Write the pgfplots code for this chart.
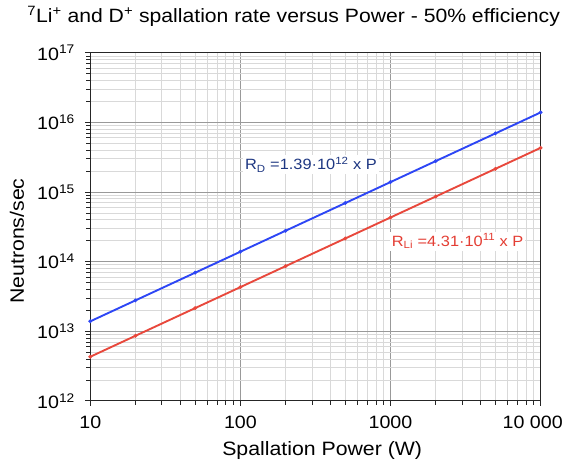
\documentclass[border=0pt]{standalone}
\usepackage{fontspec}
\setmainfont{Liberation Sans}[FakeStretch=1.1]
\usepackage{pgfplots}
\pgfplotsset{compat=1.18}
\usetikzlibrary{calc}
\definecolor{lblue}{RGB}{45,70,245}
\definecolor{lred}{RGB}{232,72,60}
\definecolor{tblue}{RGB}{30,55,130}
\definecolor{tred}{RGB}{228,62,52}
\begin{document}
\fontsize{19}{22}\selectfont
\begin{tikzpicture}
\begin{axis}[
  width=454pt, height=351pt, scale only axis,
  xmode=log, ymode=log,
  xmin=10, xmax=10000, ymin=1e12, ymax=1e17,
  xtick={10,100,1000,10000},
  xticklabels={10,100,1000,\hspace*{-16pt}10\ 000},
  ytick={1e12,1e13,1e14,1e15,1e16,1e17},
  yticklabels={10\textsuperscript{12},10\textsuperscript{13},10\textsuperscript{14},10\textsuperscript{15},10\textsuperscript{16},10\textsuperscript{17}},
  minor xtick={20,30,40,50,60,70,80,90,200,300,400,500,600,700,800,900,2000,3000,4000,5000,6000,7000,8000,9000},
  minor ytick={2e12,3e12,4e12,5e12,6e12,7e12,8e12,9e12,
               2e13,3e13,4e13,5e13,6e13,7e13,8e13,9e13,
               2e14,3e14,4e14,5e14,6e14,7e14,8e14,9e14,
               2e15,3e15,4e15,5e15,6e15,7e15,8e15,9e15,
               2e16,3e16,4e16,5e16,6e16,7e16,8e16,9e16},
  grid=both,
  major grid style={black!40, line width=0.9pt},
  minor grid style={black!15, line width=0.8pt},
  axis line style={black!85, line width=1.1pt},
  tick align=outside, tick pos=left,
  major tick length=5pt, minor tick length=4pt,
  every tick/.style={black!85, line width=0.9pt},
  ticklabel style={font=\fontsize{18}{21}\selectfont},
  xticklabel style={yshift=-4pt},
  yticklabel style={xshift=-4pt},
  xlabel={Spallation Power (W)},
  ylabel={Neutrons/sec},
  label style={font=\fontsize{19.5}{22}\selectfont},
  xlabel style={at={(axis description cs:0.515,-0.142)}, anchor=center},
  ylabel style={at={(axis description cs:-0.163,0.459)}, anchor=center},
  title={\textsuperscript{7}Li\textsuperscript{+} and D\textsuperscript{+} spallation rate versus Power - 50\% efficiency},
  title style={at={(axis description cs:0.5,1)}, anchor=base, xshift=-22pt, yshift=24pt, font=\fontsize{19.4}{22}\selectfont},
  clip=false,
]
\addplot[lblue, line width=1.9pt, mark=*, mark size=0.8pt] coordinates {
  (10,1.39e13) (20,2.78e13) (50,6.95e13) (100,1.39e14) (200,2.78e14)
  (500,6.95e14) (1000,1.39e15) (2000,2.78e15) (5000,6.95e15) (10000,1.39e16)};
\addplot[lred, line width=1.9pt, mark=*, mark size=0.8pt] coordinates {
  (10,4.31e12) (20,8.62e12) (50,2.155e13) (100,4.31e13) (200,8.62e13)
  (500,2.155e14) (1000,4.31e14) (2000,8.62e14) (5000,2.155e15) (10000,4.31e15)};
\node[fill=white, text=tblue, inner sep=2pt, font=\fontsize{15}{18}\selectfont] at (axis cs:295,2.46e15) {R\textsubscript{D} =1.39·10\textsuperscript{12} x P};
\node[fill=white, text=tred, inner sep=2pt, font=\fontsize{15}{18}\selectfont] at (axis cs:2800,1.96e14) {R\textsubscript{Li} =4.31·10\textsuperscript{11} x P};
\end{axis}
\path ($(current axis.south west)+(-91pt,-59pt)$) rectangle ($(current axis.north east)+(24pt,50pt)$);
\end{tikzpicture}
\end{document}
